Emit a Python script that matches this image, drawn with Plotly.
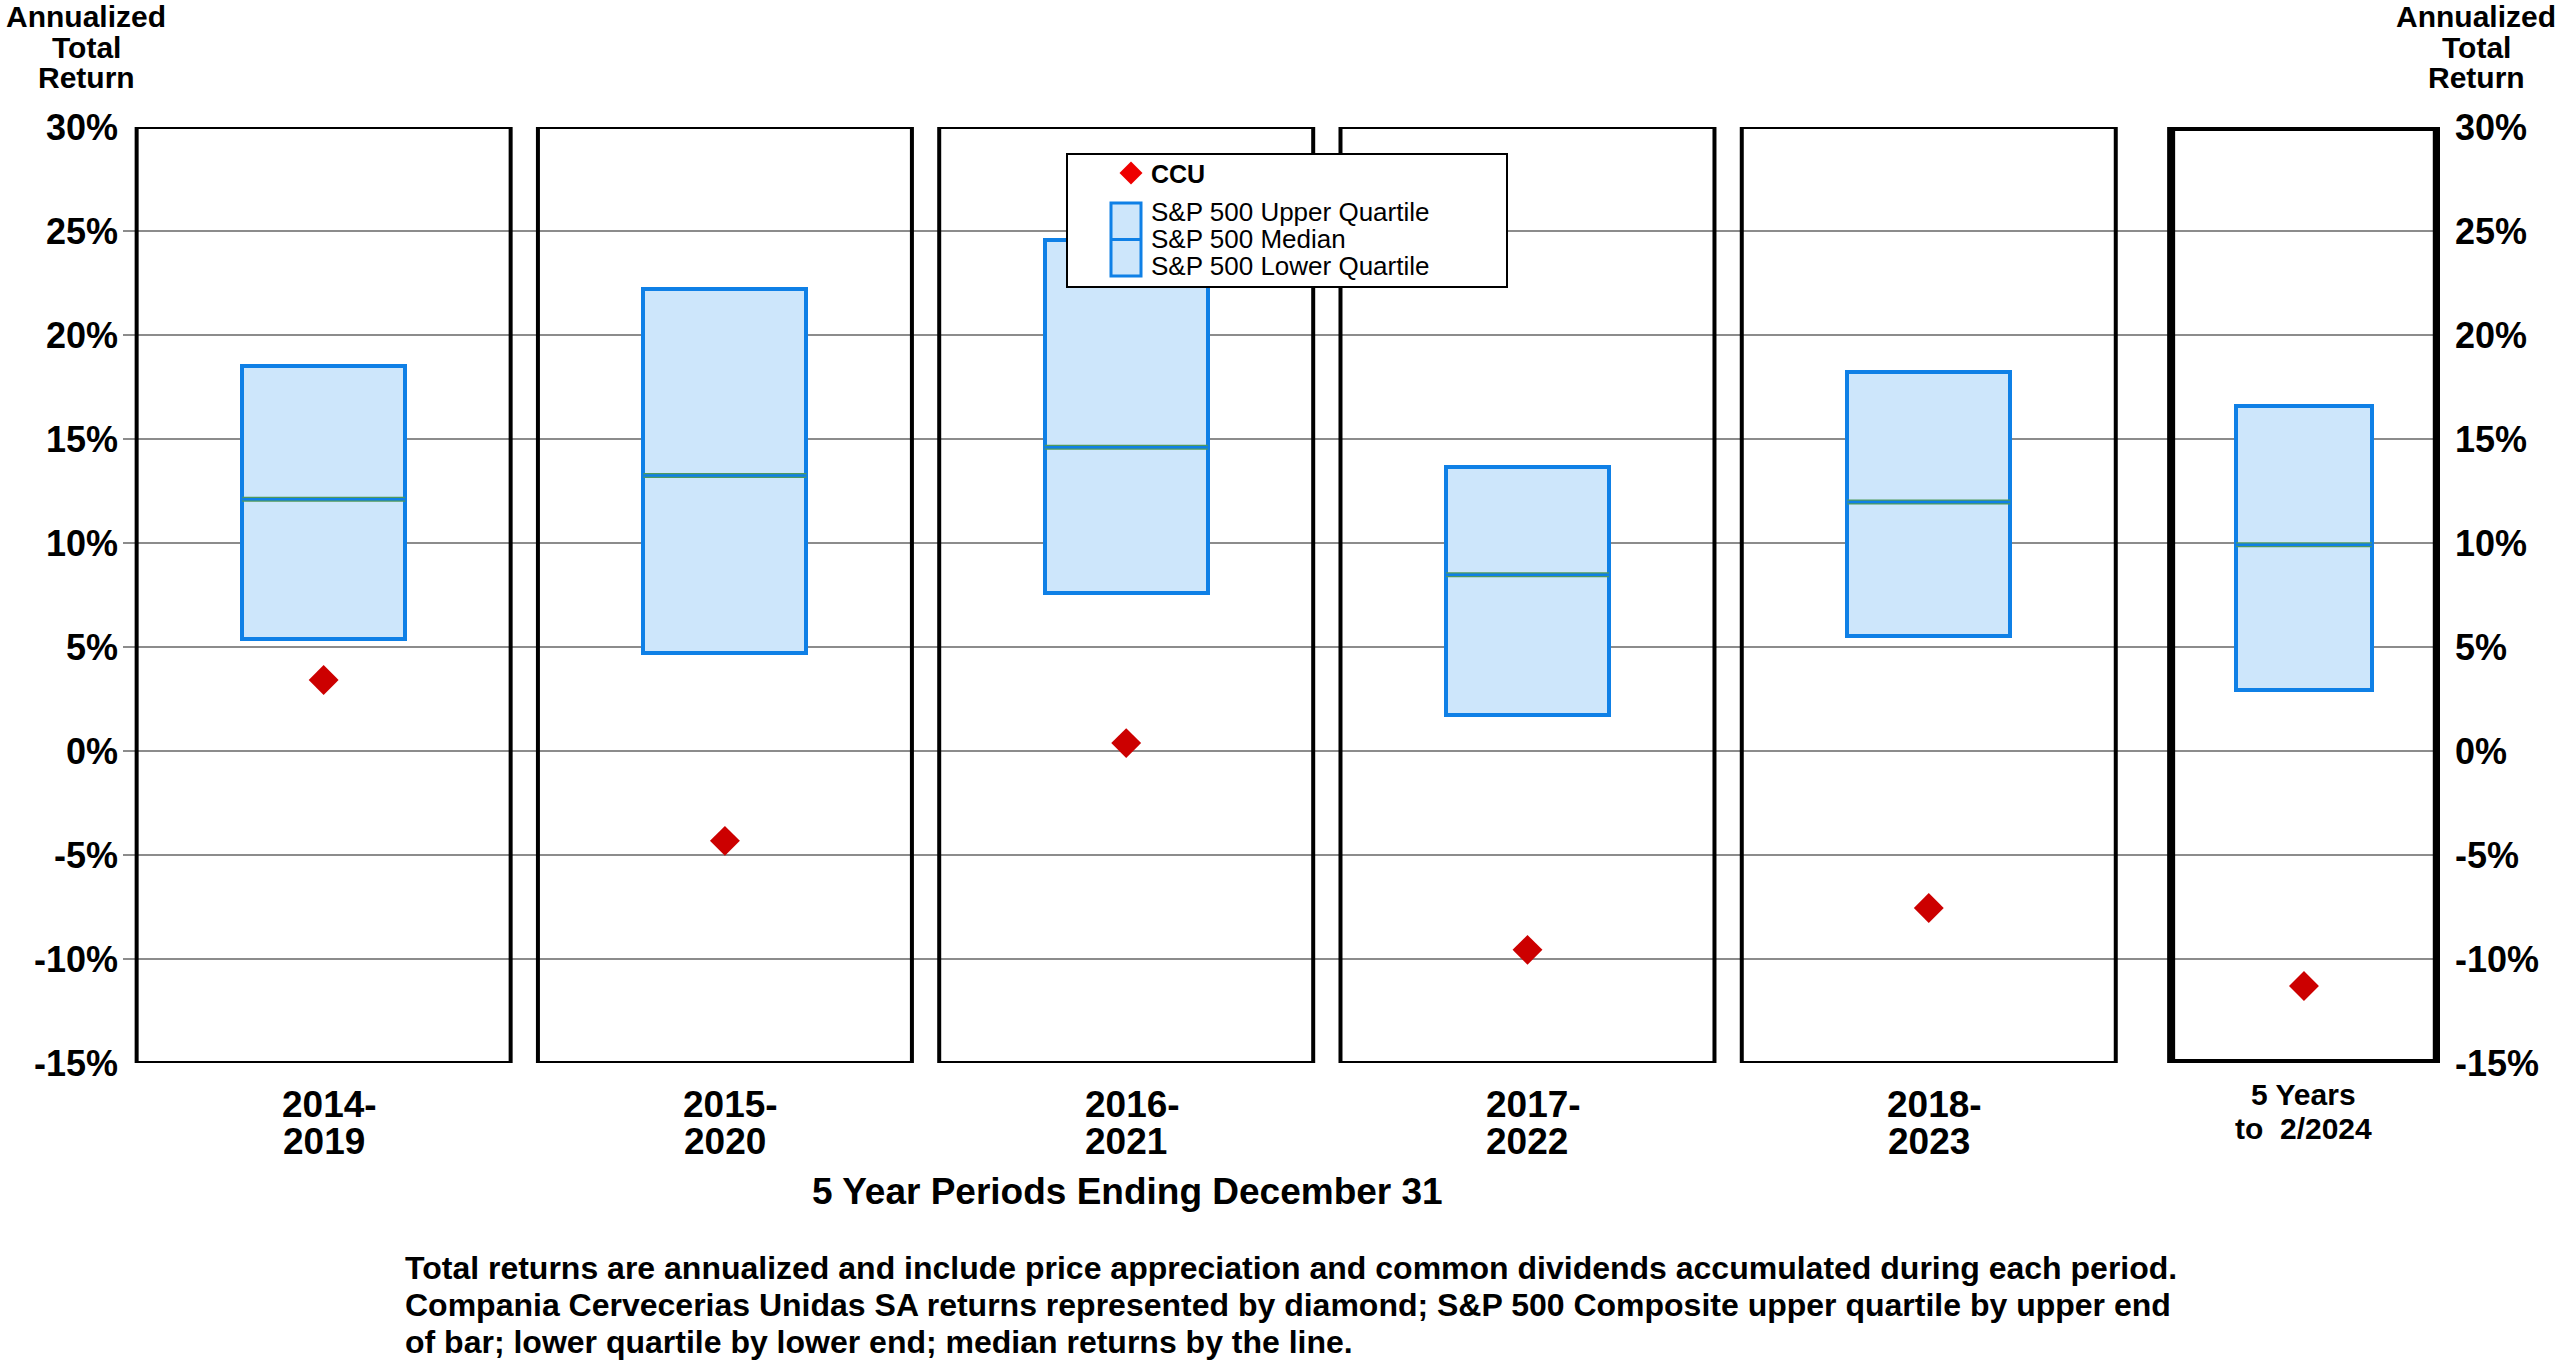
import plotly.graph_objects as go

# ---- data ----
periods_line1 = ["2014-", "2015-", "2016-", "2017-", "2018-", "5 Years"]
periods_line2 = ["2019", "2020", "2021", "2022", "2023", "to  2/2024"]
sp_upper = [18.5, 22.2, 24.55, 13.65, 18.2, 16.6]
sp_median = [12.1, 13.25, 14.6, 8.47, 11.97, 9.92]
sp_lower = [5.38, 4.72, 7.62, 1.74, 5.54, 2.93]
ccu = [3.41, -4.32, 0.38, -9.56, -7.55, -11.3]
y_ticks = [-15, -10, -5, 0, 5, 10, 15, 20, 25, 30]
y_tick_text = ["-15%", "-10%", "-5%", "0%", "5%", "10%", "15%", "20%", "25%", "30%"]

# ---- layout geometry (page pixel coordinates) ----
W, H = 2560, 1367
L, R, T, B = 123, 120, 127, 304
PW = W - L - R
PH = H - T - B
xpos = [0, 1, 2, 3, 4, 4.935]
panel_hw = [0.466, 0.466, 0.466, 0.466, 0.466, 0.331]
box_hw = [0.203, 0.203, 0.203, 0.203, 0.203, 0.169]
x_range = [-0.5, 5.274]

FONT = "Liberation Sans, Arial, Helvetica, sans-serif"
BOX_FILL = "#cde6fb"
BOX_LINE = "#0f80e6"
GREEN = "#4f9a5c"
RED = "#cc0000"


def px(x):
    return (x - L) / PW


def py(y):
    return (H - B - y) / PH


fig = go.Figure()

fig.add_trace(go.Bar(
    x=xpos,
    y=[u - l for u, l in zip(sp_upper, sp_lower)],
    base=sp_lower,
    width=[2 * w for w in box_hw],
    marker=dict(color=BOX_FILL, line=dict(color=BOX_LINE, width=4)),
    showlegend=False, hoverinfo="skip",
))

mx, my = [], []
for xc, hw, m in zip(xpos, box_hw, sp_median):
    mx += [xc - hw, xc + hw, None]
    my += [m, m, None]
fig.add_trace(go.Scatter(x=mx, y=my, mode="lines", yaxis="y2",
                         line=dict(color=GREEN, width=5), showlegend=False, hoverinfo="skip"))
fig.add_trace(go.Scatter(x=mx, y=my, mode="lines", yaxis="y2",
                         line=dict(color=BOX_LINE, width=2.5), showlegend=False, hoverinfo="skip"))

fig.add_trace(go.Scatter(x=xpos, y=ccu, mode="markers", yaxis="y2",
                         marker=dict(symbol="diamond", size=23, color=RED, line=dict(width=0)),
                         showlegend=False, hoverinfo="skip"))

shapes = []
for i, (xc, hw) in enumerate(zip(xpos, panel_hw)):
    shapes.append(dict(type="rect", xref="x", yref="y", x0=xc - hw, x1=xc + hw,
                       y0=y_ticks[0], y1=y_ticks[-1],
                       line=dict(color="black", width=8 if i == 5 else 4),
                       fillcolor="rgba(0,0,0,0)", layer="above"))

# legend
shapes.append(dict(type="rect", xref="paper", yref="paper", x0=px(1067), x1=px(1507),
                   y0=py(287), y1=py(154), line=dict(color="black", width=2),
                   fillcolor="white", layer="above"))
dcx, dcy, dh = 1131, 173, 11.5
shapes.append(dict(type="path", xref="paper", yref="paper",
                   path=f"M {px(dcx - dh)} {py(dcy)} L {px(dcx)} {py(dcy - dh)} L {px(dcx + dh)} {py(dcy)} L {px(dcx)} {py(dcy + dh)} Z",
                   fillcolor="#ee0000", line=dict(width=0), layer="above"))
shapes.append(dict(type="rect", xref="paper", yref="paper", x0=px(1111), x1=px(1141),
                   y0=py(276), y1=py(203), line=dict(color=BOX_LINE, width=3),
                   fillcolor=BOX_FILL, layer="above"))
shapes.append(dict(type="line", xref="paper", yref="paper", x0=px(1111), x1=px(1141),
                   y0=py(239.5), y1=py(239.5), line=dict(color=BOX_LINE, width=3), layer="above"))

ann = []


def text(s, x, y, size, bold=True, xanchor="center"):
    ann.append(dict(text=f"<b>{s}</b>" if bold else s, x=px(x), y=py(y), xref="paper", yref="paper",
                    xanchor=xanchor, yanchor="middle", showarrow=False,
                    font=dict(family=FONT, size=size, color="black")))


text("CCU", 1149, 174, 25, xanchor="left")
text("S&P 500 Upper Quartile", 1149, 212, 26, bold=False, xanchor="left")
text("S&P 500 Median", 1149, 239, 26, bold=False, xanchor="left")
text("S&P 500 Lower Quartile", 1149, 266, 26, bold=False, xanchor="left")

for lx in (86, 2476):
    text("Annualized", lx, 17, 30)
    text("Total", lx, 47, 30)
    text("Return", lx, 78, 30)

for i, (xc, a, b) in enumerate(zip(xpos, periods_line1, periods_line2)):
    xpix = L + (xc - x_range[0]) / (x_range[1] - x_range[0]) * PW
    if i < 5:
        text(a, xpix + 6, 1104, 37)
        text(b, xpix, 1141, 37)
    else:
        text(a, xpix, 1094, 30)
        text(b, xpix, 1128, 30)

text("5 Year Periods Ending December 31", 1127, 1191, 37)
foot = [
    "Total returns are annualized and include price appreciation and common dividends accumulated during each period.",
    "Compania Cervecerias Unidas SA returns represented by diamond; S&P 500 Composite upper quartile by upper end",
    "of bar; lower quartile by lower end; median returns by the line.",
]
for k, s in enumerate(foot):
    text(s, 403, 1268 + 37 * k, 32, xanchor="left")

bold_ticks = [f"<b>{t}</b>" for t in y_tick_text]
yax = dict(range=[y_ticks[0], y_ticks[-1]], tickvals=y_ticks, ticktext=bold_ticks,
           zeroline=False, showline=False,
           ticks="", tickfont=dict(family=FONT, size=36, color="black"))

fig.update_layout(
    width=W, height=H,
    margin=dict(l=L, r=R, t=T, b=B, pad=0),
    paper_bgcolor="white", plot_bgcolor="white",
    font=dict(family=FONT),
    bargap=0,
    xaxis=dict(range=x_range, showgrid=False, zeroline=False, showticklabels=False,
               ticks="", showline=False, fixedrange=True),
    yaxis=dict(**yax, showgrid=True, gridcolor="#8c8c8c", gridwidth=2, ticklabelstandoff=4),
    yaxis2=dict(**yax, showgrid=False, overlaying="y", side="right", anchor="x",
                ticklabelstandoff=14),
    shapes=shapes,
    annotations=ann,
    showlegend=False,
)

fig.write_html(
    "out.html",
    config={"displayModeBar": False},
    post_script="document.body.style.margin='0';document.body.style.overflow='hidden';",
)
